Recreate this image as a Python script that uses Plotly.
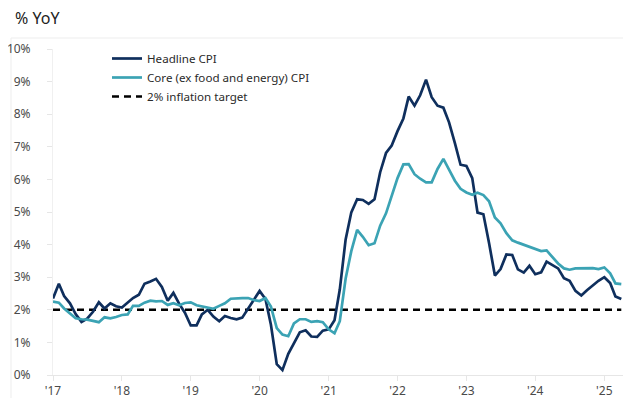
import pandas as pd
import plotly.graph_objects as go

# Monthly dates, Jan 2017 - Apr 2025
DATES = pd.date_range("2017-01-01", periods=100, freq="MS")

HEADLINE = [
    2.35, 2.80, 2.42, 2.20, 1.87, 1.63, 1.73, 1.94, 2.23, 2.04, 2.20, 2.11,
    2.07, 2.21, 2.36, 2.46, 2.80, 2.87, 2.95, 2.70, 2.28, 2.52, 2.18, 1.91,
    1.52, 1.52, 1.86, 2.00, 1.79, 1.65, 1.81, 1.75, 1.71, 1.76, 2.05, 2.29,
    2.58, 2.33, 1.54, 0.33, 0.15, 0.65, 0.99, 1.31, 1.37, 1.18, 1.17, 1.36,
    1.40, 1.68, 2.62, 4.16, 4.99, 5.39, 5.37, 5.25, 5.39, 6.22, 6.81, 7.04,
    7.48, 7.87, 8.54, 8.26, 8.58, 9.06, 8.52, 8.26, 8.20, 7.75, 7.11, 6.45,
    6.41, 6.04, 4.98, 4.93, 4.05, 3.05, 3.25, 3.70, 3.68, 3.24, 3.14, 3.35,
    3.09, 3.15, 3.48, 3.36, 3.27, 2.97, 2.89, 2.58, 2.44, 2.60, 2.75, 2.89,
    3.00, 2.82, 2.41, 2.33,
]

CORE = [
    2.25, 2.22, 2.04, 1.89, 1.74, 1.71, 1.70, 1.66, 1.62, 1.77, 1.74, 1.78,
    1.84, 1.86, 2.12, 2.12, 2.22, 2.28, 2.26, 2.27, 2.15, 2.20, 2.14, 2.21,
    2.23, 2.14, 2.10, 2.06, 2.03, 2.12, 2.20, 2.34, 2.36, 2.36, 2.36, 2.30,
    2.27, 2.36, 2.10, 1.44, 1.24, 1.19, 1.58, 1.71, 1.71, 1.63, 1.65, 1.62,
    1.40, 1.28, 1.65, 2.96, 3.80, 4.45, 4.24, 3.98, 4.04, 4.58, 4.96, 5.48,
    6.04, 6.46, 6.47, 6.16, 6.02, 5.91, 5.91, 6.32, 6.63, 6.30, 5.96, 5.71,
    5.60, 5.53, 5.59, 5.52, 5.33, 4.83, 4.65, 4.35, 4.13, 4.06, 3.99, 3.93,
    3.87, 3.80, 3.82, 3.62, 3.42, 3.27, 3.23, 3.27, 3.28, 3.28, 3.28, 3.25,
    3.30, 3.12, 2.81, 2.79,
]

TARGET = [2.0] * len(DATES)

YEAR_TICKS = pd.date_range("2017-01-01", "2025-01-01", freq="YS")
YEAR_LABELS = ["'17", "'18", "'19", "'20", "'21", "'22", "'23", "'24", "'25"]
Y_TICKS = list(range(0, 11))
Y_LABELS = [f"{v}%" for v in Y_TICKS]

NAVY = "#0f2f5d"
TEAL = "#3ba3b4"

PLOT_L, PLOT_R, PLOT_T, PLOT_B = 45, 625, 41, 367
PW, PH = PLOT_R - PLOT_L, PLOT_B - PLOT_T

fig = go.Figure()
fig.add_trace(go.Scatter(x=DATES, y=TARGET, mode="lines", name="2% inflation target",
                         legendrank=3,
                         line=dict(color="black", width=2.5, dash="7px,5px")))
fig.add_trace(go.Scatter(x=DATES, y=HEADLINE, mode="lines", name="Headline CPI",
                         legendrank=1,
                         line=dict(color=NAVY, width=2.7)))
fig.add_trace(go.Scatter(x=DATES, y=CORE, mode="lines", name="Core (ex food and energy) CPI",
                         legendrank=2,
                         line=dict(color=TEAL, width=2.7)))

fig.update_layout(
    width=631, height=398,
    margin=dict(l=PLOT_L, r=631 - PLOT_R, t=PLOT_T, b=398 - PLOT_B, autoexpand=False),
    paper_bgcolor="white", plot_bgcolor="white",
    font=dict(family="Noto Sans", size=12, color="#3a3a3a"),
    showlegend=True,
    legend=dict(x=(99 - PLOT_L) / PW, y=1 + (PLOT_T - 36) / PH,
                xanchor="left", yanchor="top",
                bgcolor="rgba(0,0,0,0)", font=dict(size=11.6, color="#2a2a2a"),
                traceorder="normal", tracegroupgap=0, itemwidth=30),
    xaxis=dict(range=["2017-01-01", "2025-06-02"], tickvals=YEAR_TICKS, ticktext=YEAR_LABELS,
               automargin=False,
               showgrid=False, zeroline=False, showline=True, linecolor="#e6e6e6", linewidth=1,
               ticks="outside", ticklen=5, tickcolor="#e6e6e6",
               tickfont=dict(size=12, color="#4a4a4a")),
    yaxis=dict(range=[0, 10], tickvals=Y_TICKS, ticktext=Y_LABELS,
               automargin=False,
               showgrid=False, zeroline=False, showline=True, linecolor="#f0f0f0", linewidth=1,
               ticks="outside", ticklen=5, tickcolor="#e6e6e6", ticklabelstandoff=14,
               tickfont=dict(size=12, color="#4a4a4a")),
)

fig.add_annotation(text="% YoY", xref="paper", yref="paper",
                   x=(5 - PLOT_L) / PW, y=(PLOT_B - 10) / PH,
                   xanchor="left", yanchor="middle", showarrow=False,
                   font=dict(size=16, color="#222"))

fig.add_shape(type="rect", xref="paper", yref="paper",
              x0=(3 - PLOT_L) / PW, x1=(627 - PLOT_L) / PW,
              y0=(PLOT_B - 395) / PH, y1=(PLOT_B - 30) / PH,
              line=dict(color="#ededed", width=1), fillcolor="rgba(0,0,0,0)", layer="below")

fig.write_html("out.html")
